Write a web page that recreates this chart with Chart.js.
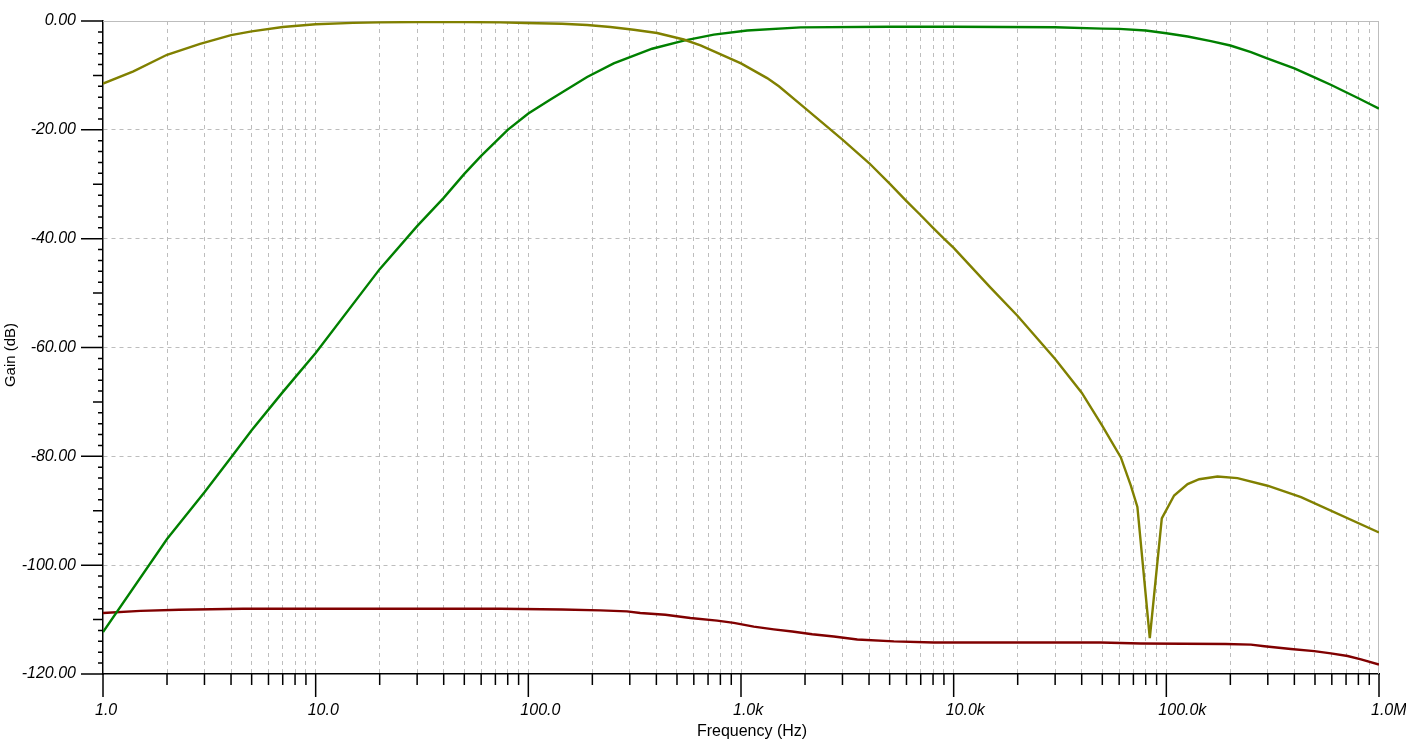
<!DOCTYPE html>
<html>
<head>
<meta charset="utf-8">
<title>Gain vs Frequency</title>
<script src="https://cdn.jsdelivr.net/npm/chart.js@4.4.1/dist/chart.umd.min.js"></script>
<style>
    html, body { margin: 0; padding: 0; background: #ffffff; }
    #gainChart { display: block; }
</style>
</head>
<body>
<canvas id="gainChart" width="1406" height="745"></canvas>
<script>
// --- Data (frequency in Hz, gain in dB) ---
const oliveFreq = [1, 1.39, 2, 2.86, 4, 5, 7, 10, 15, 20, 30, 50, 73.8, 96.8, 144, 189, 243, 313, 403, 538, 645,
    1000, 1327, 1507, 2000, 3000, 4000, 5000, 6000, 7000, 8000, 9000, 10000, 14900, 20000, 30000,
    40000, 50000, 61100, 68100, 73100, 83600, 95200, 108800, 125900, 142700, 174000, 216000, 299000, 430000, 1000000];
const oliveGain = [-11.5, -9.25, -6.2, -4.2, -2.6, -1.9, -1.1, -0.6, -0.35, -0.25, -0.2, -0.2, -0.25, -0.37, -0.5, -0.73, -1.1, -1.6, -2.2, -3.4, -4.5,
    -7.8, -10.5, -12.0, -16.0, -21.8, -26.1, -29.9, -33.1, -35.7, -38.0, -40.0, -41.7, -49.0, -54.2, -62.1,
    -68.3, -74.4, -80.2, -85.4, -89.3, -113.4, -91.4, -87.2, -85.1, -84.2, -83.7, -84.0, -85.4, -87.5, -94.0];

const greenFreq = [1, 2, 3, 4, 5, 7, 10, 20, 30, 40, 50, 60, 80, 100, 126, 189, 252, 382, 538, 745, 1069, 1905,
    5000, 10000, 30000, 50000, 60000, 80000, 100000, 126000, 162000, 200000, 250000, 300000, 400000, 500000,
    600000, 700000, 800000, 900000, 1000000];
const greenGain = [-112.3, -95.2, -86.6, -80.2, -75.2, -68.2, -61.0, -45.6, -37.7, -32.5, -28.1, -24.8, -20.0, -17.0, -14.5, -10.3, -7.8, -5.1, -3.6, -2.5, -1.75, -1.17,
    -1.05, -1.05, -1.15, -1.4, -1.45, -1.75, -2.25, -2.85, -3.7, -4.5, -5.7, -6.9, -8.7, -10.4,
    -11.8, -13.1, -14.2, -15.2, -16.1];

const redFreq = [1, 1.5, 2.28, 4.56, 73.8, 144, 218, 291, 336, 441, 578, 772, 925, 1148, 1426, 1741, 2162, 2733, 3522,
    5233, 8072, 16600, 49200, 75900, 190000, 250000, 289000, 385000, 496000, 594000, 712000, 823000, 1000000];
const redGain = [-108.8, -108.4, -108.2, -108.0, -108.0, -108.15, -108.3, -108.5, -108.8, -109.1, -109.7, -110.2, -110.6, -111.3, -111.8, -112.2, -112.7, -113.1, -113.65,
    -114.0, -114.2, -114.2, -114.2, -114.4, -114.5, -114.6, -114.9, -115.4, -115.8, -116.2, -116.7, -117.3, -118.25];

// --- Axis ticks and labels ---
const xDecades = [1, 10, 100, 1000, 10000, 100000, 1000000];
const xDecadeLabels = ['1.0', '10.0', '100.0', '1.0k', '10.0k', '100.0k', '1.0M'];
const yMajorValues = [0, -20, -40, -60, -80, -100, -120];
const yMajorLabels = ['0.00', '-20.00', '-40.00', '-60.00', '-80.00', '-100.00', '-120.00'];
const yStep = 2;   // minor tick spacing on the gain axis

const FONT = '"Liberation Sans", Arial, sans-serif';
const GRID_GRAY = '#bdbdbd';

function toPoints(xs, ys) {
    return xs.map(function(x, i) { return { x: x, y: ys[i] }; });
}

// 1,2,...,9,10,20,... up to 1M
function buildFreqTicks() {
    const out = [];
    for (let d = 0; d < xDecades.length - 1; d++) {
        for (let m = 1; m < 10; m++) {
            out.push({ value: xDecades[d] * m, major: m === 1 });
        }
    }
    out.push({ value: xDecades[xDecades.length - 1], major: true });
    return out;
}

function buildGainTicks() {
    const out = [];
    for (let v = yMajorValues[yMajorValues.length - 1]; v <= yMajorValues[0]; v += yStep) {
        out.push({ value: v });
    }
    return out;
}

/**
 * Frame + tick marks + axis titles
 * (tick lengths vary per tick, which Chart.js grid options can't do)
 */
const axisDecor = {
    id: 'axisDecor',
    beforeDatasetsDraw(chart) {
        const ctx = chart.ctx;
        const a = chart.chartArea;
        ctx.save();
        ctx.strokeStyle = GRID_GRAY;
        ctx.lineWidth = 1;
        ctx.beginPath();
        ctx.moveTo(a.left, Math.round(a.top) + 0.5);
        ctx.lineTo(a.right, Math.round(a.top) + 0.5);
        ctx.moveTo(Math.round(a.right) - 0.5, a.top);
        ctx.lineTo(Math.round(a.right) - 0.5, a.bottom);
        ctx.stroke();
        ctx.restore();
    },
    afterDraw(chart) {
        const ctx = chart.ctx;
        const a = chart.chartArea;
        const xs = chart.scales.x;
        const ys = chart.scales.y;
        ctx.save();
        ctx.strokeStyle = '#000';
        ctx.lineWidth = 1.5;
        ctx.beginPath();
        xs.ticks.forEach(function(t) {
            const px = xs.getPixelForValue(t.value);
            const len = t.major ? 23 : 11;
            ctx.moveTo(px, a.bottom);
            ctx.lineTo(px, a.bottom + len);
        });
        ys.ticks.forEach(function(t) {
            const py = ys.getPixelForValue(t.value);
            let len = 5;
            if (t.value % 20 === 0) len = 22;
            else if (t.value % 10 === 0) len = 10;
            ctx.moveTo(a.left - len, py);
            ctx.lineTo(a.left, py);
        });
        ctx.stroke();

        // axis titles
        ctx.fillStyle = '#000';
        ctx.font = '16px ' + FONT;
        ctx.textAlign = 'center';
        ctx.textBaseline = 'alphabetic';
        ctx.fillText('Frequency (Hz)', 752, 736);

        ctx.translate(15, 355);
        ctx.rotate(-Math.PI / 2);
        ctx.font = '15px ' + FONT;
        ctx.fillText('Gain (dB)', 0, 0);
        ctx.restore();
    }
};

// --- Build the chart ---
function initGainChart() {
    if (typeof Chart === 'undefined') {
        console.warn('Chart.js library is not loaded. Skipping chart initialization.');
        return;
    }
    const canvas = document.getElementById('gainChart');

    new Chart(canvas.getContext('2d'), {
        type: 'line',
        data: {
            datasets: [
                { label: 'V1', data: toPoints(oliveFreq, oliveGain), borderColor: '#808000' },
                { label: 'V2', data: toPoints(greenFreq, greenGain), borderColor: '#008000' },
                { label: 'V3', data: toPoints(redFreq, redGain), borderColor: '#800000' }
            ]
        },
        options: {
            responsive: false,
            animation: false,
            devicePixelRatio: 1,
            datasets: {
                line: { borderWidth: 2.4, pointRadius: 0, tension: 0, fill: false }
            },
            layout: { padding: { left: 0, right: 27, top: 21, bottom: 0 } },
            plugins: {
                legend: { display: false },
                tooltip: { enabled: false }
            },
            scales: {
                x: {
                    type: 'logarithmic',
                    min: 1,
                    max: 1000000,
                    afterBuildTicks: function(s) { s.ticks = buildFreqTicks(); },
                    afterFit: function(s) { s.height = 71; s.paddingLeft = 0; s.paddingRight = 0; },
                    ticks: {
                        autoSkip: false,
                        maxRotation: 0,
                        minRotation: 0,
                        align: 'start',
                        labelOffset: -8,
                        padding: 27,
                        color: '#000',
                        font: { family: FONT, size: 16, style: 'italic' },
                        callback: function(value) {
                            const i = xDecades.indexOf(value);
                            return i >= 0 ? xDecadeLabels[i] : '';
                        }
                    },
                    grid: {
                        drawTicks: false,
                        lineWidth: 1,
                        borderDash: [4, 4],
                        color: function(c) {
                            const v = c.tick && c.tick.value;
                            return (v === 1 || v === 1000000) ? 'rgba(0,0,0,0)' : GRID_GRAY;
                        }
                    },
                    border: { color: '#000', width: 1.5, dash: [4, 4] }
                },
                y: {
                    type: 'linear',
                    min: -120,
                    max: 0,
                    afterBuildTicks: function(s) { s.ticks = buildGainTicks(); },
                    afterFit: function(s) { s.width = 103; s.paddingTop = 0; s.paddingBottom = 0; },
                    ticks: {
                        autoSkip: false,
                        padding: 27,
                        color: '#000',
                        font: { family: FONT, size: 16, style: 'italic' },
                        callback: function(value) {
                            const i = yMajorValues.indexOf(value);
                            return i >= 0 ? yMajorLabels[i] : '';
                        }
                    },
                    grid: {
                        drawTicks: false,
                        lineWidth: 1,
                        borderDash: [4, 4],
                        color: function(c) {
                            const v = c.tick && c.tick.value;
                            if (v === 0 || v === -120) return 'rgba(0,0,0,0)';
                            return (v % 20 === 0) ? GRID_GRAY : 'rgba(0,0,0,0)';
                        }
                    },
                    border: { color: '#000', width: 1.5, dash: [4, 4] }
                }
            }
        },
        plugins: [axisDecor]
    });
}

initGainChart();
</script>
</body>
</html>
